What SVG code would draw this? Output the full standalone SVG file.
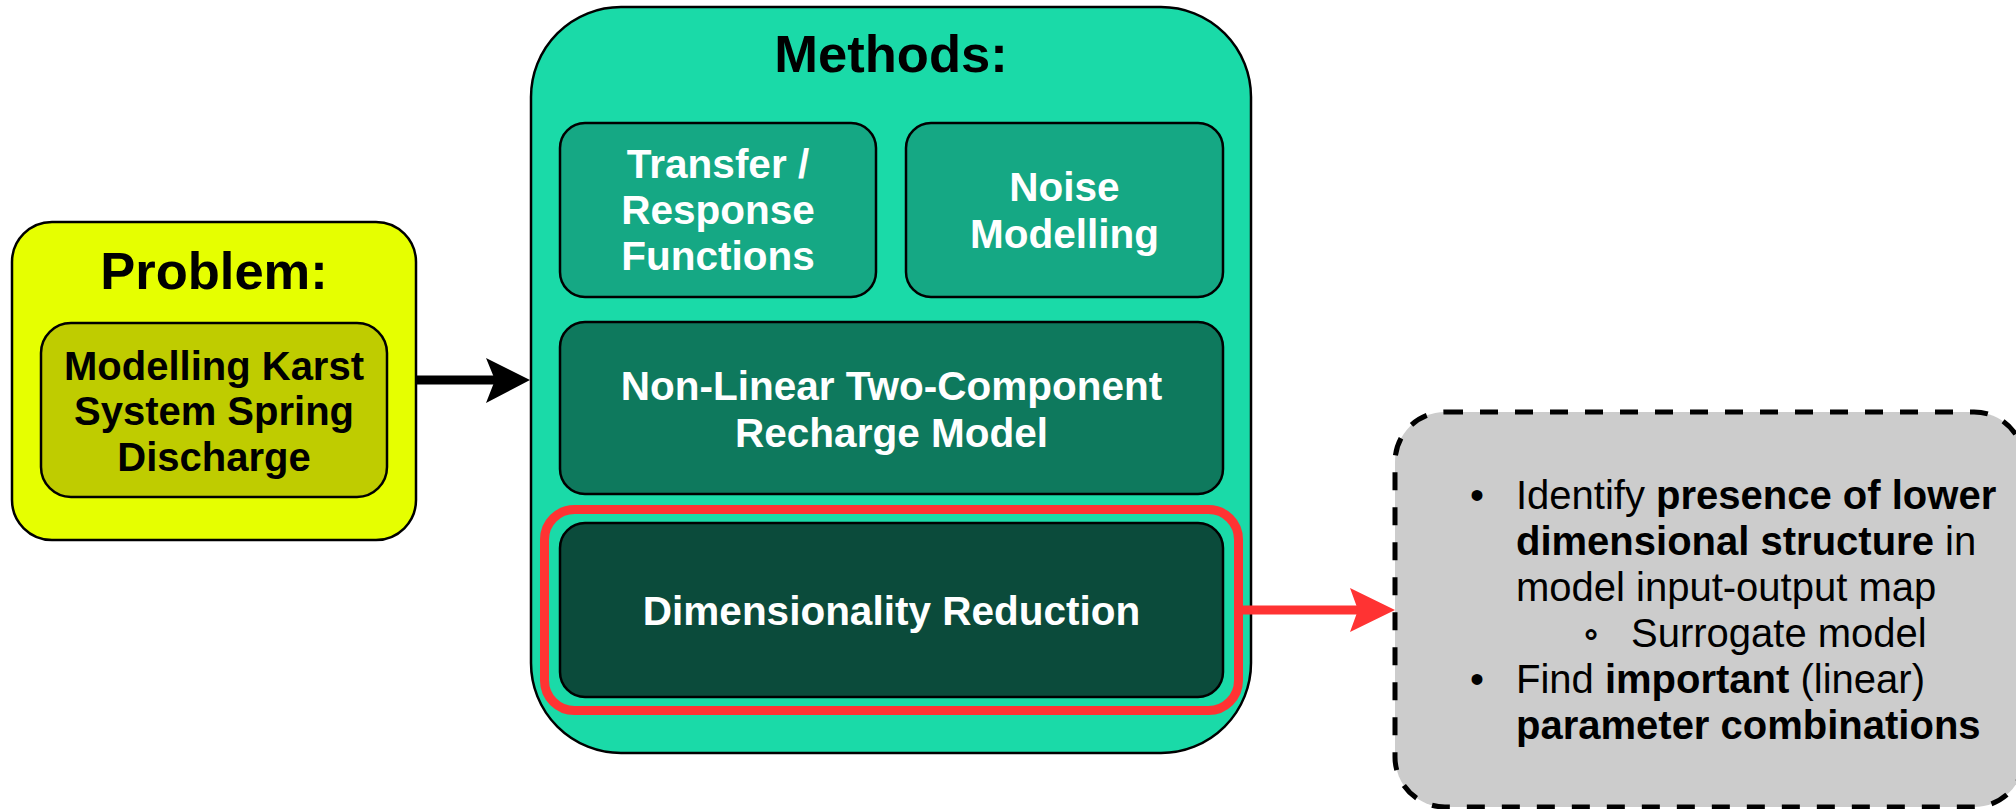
<svg xmlns="http://www.w3.org/2000/svg" width="2016" height="809" viewBox="0 0 2016 809">
  <defs>
    <style>
      .box { stroke: #000; stroke-width: 2.5; }
      .t { font-family: "Liberation Sans", Arial, sans-serif; text-anchor: middle; }
      .title { font-size: 52.5px; font-weight: bold; fill: #000; }
      .lbl { font-size: 40.5px; font-weight: bold; fill: #fff; }
      .lblDark { font-size: 40px; font-weight: bold; fill: #000; }
      .note { font-family: "Liberation Sans", Arial, sans-serif; font-size: 40px; fill: #000; }
      .b { font-weight: bold; }
    </style>
  </defs>
  <rect width="2016" height="809" fill="#ffffff"/>

  <!-- Problem -->
  <g id="problem">
    <rect class="box" x="12" y="222" width="404" height="318" rx="40" fill="#e6ff00"/>
    <text class="t title" x="214" y="289">Problem:</text>
  </g>
  <g id="problem-detail">
    <rect class="box" x="41" y="323" width="346" height="174" rx="30" fill="#bfcc00"/>
    <text class="t lblDark" x="214" y="380">Modelling Karst</text>
    <text class="t lblDark" x="214" y="425">System Spring</text>
    <text class="t lblDark" x="214" y="471">Discharge</text>
  </g>

  <!-- Methods -->
  <g id="methods">
    <rect class="box" x="531" y="7" width="720" height="746" rx="90" fill="#1adaa8"/>
    <text class="t title" x="891" y="72">Methods:</text>
  </g>
  <g id="transfer">
    <rect class="box" x="560" y="123" width="316" height="174" rx="25" fill="#15a884"/>
    <text class="t lbl" x="718" y="178">Transfer /</text>
    <text class="t lbl" x="718" y="224">Response</text>
    <text class="t lbl" x="718" y="270">Functions</text>
  </g>
  <g id="noise">
    <rect class="box" x="906" y="123" width="317" height="174" rx="25" fill="#15a884"/>
    <text class="t lbl" x="1064.5" y="201">Noise</text>
    <text class="t lbl" x="1064.5" y="248">Modelling</text>
  </g>
  <g id="recharge">
    <rect class="box" x="560" y="322" width="663" height="172" rx="25" fill="#0e795d"/>
    <text class="t lbl" x="891.5" y="400">Non-Linear Two-Component</text>
    <text class="t lbl" x="891.5" y="447">Recharge Model</text>
  </g>
  <g id="dimred">
    <rect x="544.5" y="509.5" width="694" height="201" rx="30" fill="none" stroke="#ff3333" stroke-width="9"/>
    <rect class="box" x="560" y="523" width="663" height="174" rx="25" fill="#0b4b3b"/>
    <text class="t lbl" x="891.5" y="625">Dimensionality Reduction</text>
  </g>

  <!-- Findings -->
  <g id="findings">
    <rect x="1395" y="412" width="629" height="395" rx="50" fill="#cccccc" stroke="#000" stroke-width="5" stroke-dasharray="18 17"/>
    <text class="note" x="1477" y="509" text-anchor="middle">•</text>
    <text class="note" x="1516" y="509">Identify <tspan class="b">presence of lower</tspan></text>
    <text class="note" x="1516" y="555"><tspan class="b">dimensional structure</tspan> in</text>
    <text class="note" x="1516" y="601">model input-output map</text>
    <text class="note" x="1591" y="647" text-anchor="middle" font-size="60" stroke="#000" stroke-width="1.2">◦</text>
    <text class="note" x="1631" y="647">Surrogate model</text>
    <text class="note" x="1477" y="693" text-anchor="middle">•</text>
    <text class="note" x="1516" y="693">Find <tspan class="b">important</tspan> (linear)</text>
    <text class="note" x="1516" y="739"><tspan class="b">parameter combinations</tspan></text>
  </g>

  <!-- Connectors -->
  <g id="connectors">
    <line x1="416" y1="380" x2="497" y2="380" stroke="#000" stroke-width="9"/>
    <path d="M530,380 L486,358 L495,380 L486,403 Z" fill="#000"/>
    <line x1="1241" y1="610" x2="1360" y2="610" stroke="#ff3333" stroke-width="9"/>
    <path d="M1395,610 L1350,588 L1358,610 L1350,632 Z" fill="#ff3333"/>
  </g>
</svg>
